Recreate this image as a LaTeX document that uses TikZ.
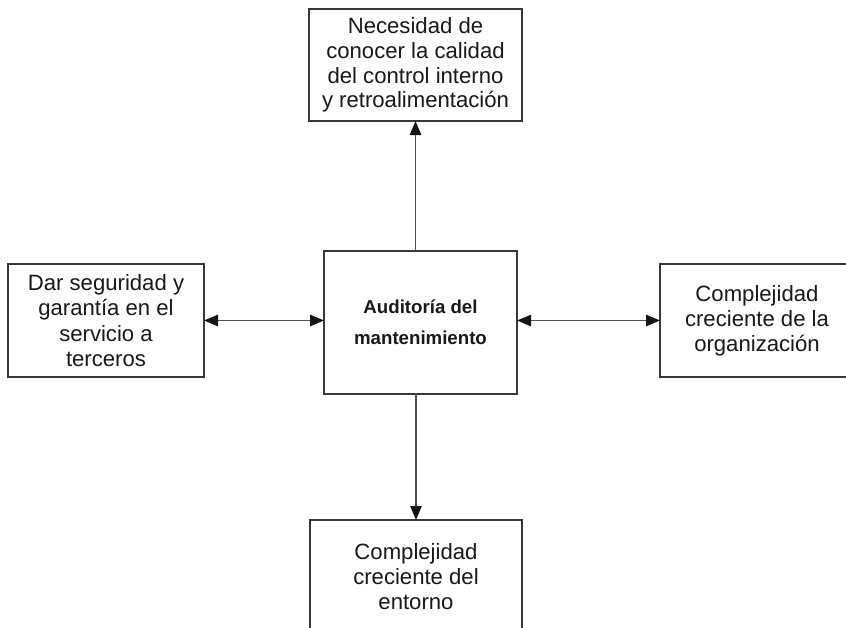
\documentclass[tikz,border=0pt]{standalone}
\usepackage{fontspec}
\setmainfont{Liberation Sans}
\usetikzlibrary{arrows.meta}
\begin{document}
\begin{tikzpicture}[x=0.75pt,y=-0.75pt,
  box/.style={draw=black!78,line width=1pt,inner sep=0pt,outer sep=0pt,
    align=center,text=black!90,font=\fontsize{16.6}{18.6}\selectfont},
  mainbox/.style={box,font=\fontsize{14}{23.3}\selectfont\bfseries},
  link/.style={draw=black!68,line width=1.3pt,
    -{Triangle[length=10.5pt,width=8.5pt,color=black!92]}},
  dlink/.style={link,
    {Triangle[length=10.5pt,width=8.5pt,color=black!92]}-{Triangle[length=10.5pt,width=8.5pt,color=black!92]}}]
\useasboundingbox (0,0) rectangle (846,628);
\clip (0,0) rectangle (846,628);
\fill[white] (0,0) rectangle (846,628);
\node[box,minimum width=159.75pt,minimum height=84pt] (top) at (415.5,65)
  {Necesidad de\\conocer la calidad\\del control interno\\y retroalimentación};
\node[mainbox,minimum width=144.75pt,minimum height=107.25pt] (mid) at (420.5,322.5)
  {Auditoría del\\mantenimiento};
\node[box,minimum width=147pt,minimum height=84.75pt,font=\fontsize{16.6}{19.2}\selectfont] (left) at (106,320.5)
  {Dar seguridad y\\garantía en el\\servicio a\\terceros};
\node[box,minimum width=145.5pt,minimum height=84.75pt] (right) at (757,320.5)
  {Complejidad\\creciente de la\\organización};
\node[box,minimum width=159pt,minimum height=84.75pt] (bot) at (416,576.5)
  {Complejidad\\creciente del\\entorno};
\draw[link] (mid.north -| top.south) -- (top.south);
\draw[link] (mid.south -| bot.north) -- (bot.north);
\draw[dlink] (left.east) -- (left.east -| mid.west);
\draw[dlink] (right.west -| mid.east) -- (right.west);
\end{tikzpicture}
\end{document}
